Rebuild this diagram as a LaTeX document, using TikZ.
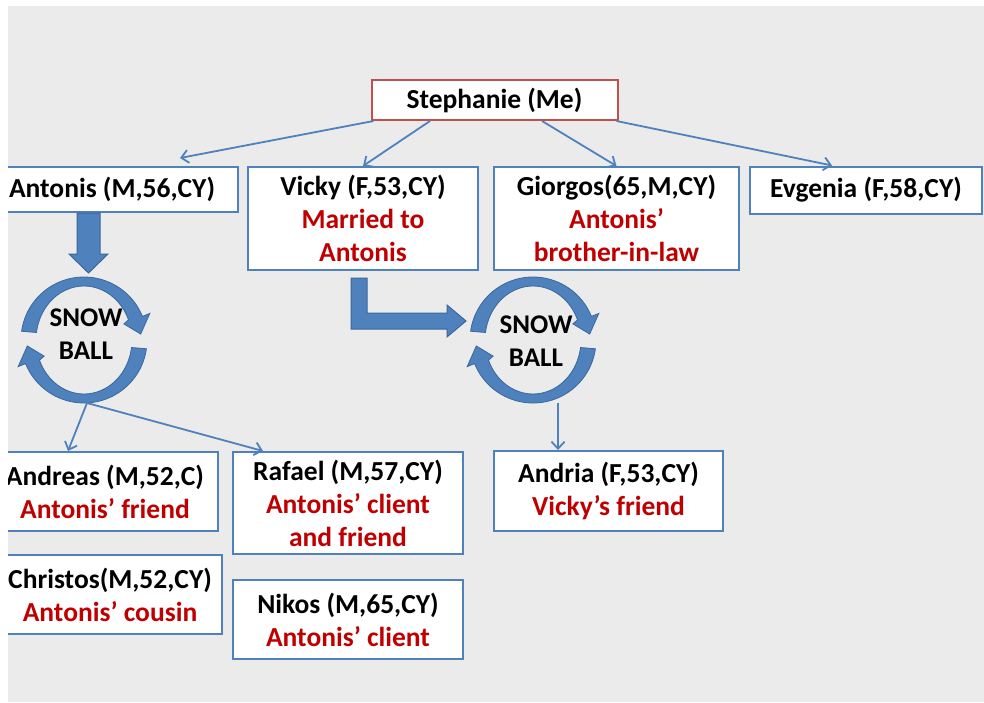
\documentclass[tikz,border=0pt]{standalone}
\usepackage{fontspec}
\setmainfont{Carlito}
\usetikzlibrary{arrows.meta, positioning}
\definecolor{boxblue}{HTML}{4F81BD}
\definecolor{arrowdark}{HTML}{3A679C}
\definecolor{mered}{HTML}{C0504D}
\definecolor{notered}{HTML}{C00000}
\definecolor{backgray}{HTML}{EBEBEB}
\newcommand{\relnote}[1]{\textcolor{notered}{#1}}
% two curved arrows round a centre
\newcommand{\snowring}[1]{%
  \foreach \turn in {0,180}{
    \filldraw[ringfill, shift={(#1)}, rotate=\turn] (188:63) arc[start angle=188, end angle=338, radius=63]
      -- (338:71) -- (354:57) -- (338:43) -- (338:48 and 54)
      arc[start angle=338, end angle=188, x radius=48, y radius=54] -- cycle;
  }}

\begin{document}
\begin{tikzpicture}[
    x=1pt, y=-1pt,
    person/.style={draw=boxblue, line width=2pt, fill=white, align=center, inner sep=0pt,
                   font=\fontsize{27.5pt}{33pt}\selectfont\bfseries},
    snowtext/.style={align=center, inner sep=0pt, font=\fontsize{27pt}{33pt}\selectfont\bfseries},
    link/.style={->, line width=1.8pt, draw=boxblue, >={Straight Barb[length=7pt,width=13pt]}},
    fat/.style={fill=boxblue, draw=arrowdark, line width=1pt},
    ringfill/.style={fill=boxblue, draw=arrowdark, line width=0.8pt}
  ]
  \useasboundingbox (0,0) rectangle (984,702);
  \fill[white] (0,0) rectangle (984,702);
  \begin{scope}
    \clip (8,6) rectangle (984,702);
    \fill[backgray] (8,6) rectangle (984,702);

    % people
    \node[person, draw=mered, minimum width=246pt, minimum height=40pt] (steph) at (494.5,100) {Stephanie (Me)};
    \node[person, minimum width=252pt, minimum height=45pt] (antonis) at (112,189.5) {Antonis (M,56,CY)};
    \node[person, minimum width=230pt, minimum height=103pt] (vicky) at (363,218.5)
      {Vicky (F,53,CY)\\\relnote{Married to}\\\relnote{Antonis}};
    \node[person, minimum width=245pt, minimum height=103pt] (giorgos) at (616.5,218.5)
      {Giorgos(65,M,CY)\\\relnote{Antonis'}\\\relnote{brother-in-law}};
    \node[person, minimum width=232pt, minimum height=47pt] (evgenia) at (866,190) {Evgenia (F,58,CY)};
    \node[person, minimum width=226pt, minimum height=79pt] (andreas) at (105,491.5)
      {Andreas (M,52,C)\\\relnote{Antonis' friend}};
    \node[person, minimum width=230pt, minimum height=102pt] (rafael) at (348,503)
      {Rafael (M,57,CY)\\\relnote{Antonis' client}\\\relnote{and friend}};
    \node[person, minimum width=224pt, minimum height=79pt] (christos) at (110,594.5)
      {Christos(M,52,CY)\\\relnote{Antonis' cousin}};
    \node[person, minimum width=230pt, minimum height=79pt, below=24pt of rafael] (nikos)
      {Nikos (M,65,CY)\\\relnote{Antonis' client}};
    \node[person, minimum width=229pt, minimum height=80pt] (andria) at (608.5,491)
      {Andria (F,53,CY)\\\relnote{Vicky's friend}};

    % snowballs
    \coordinate (ballAc) at (84,340);
    \coordinate (ballBc) at (533,340);
    \snowring{ballAc}
    \snowring{ballBc}
    \node[snowtext] (snowA) at (86,334) {SNOW\\BALL};
    \node[snowtext] (snowB) at (536,341) {SNOW\\BALL};
    \coordinate (ballA) at ([xshift=3pt,yshift=-63pt]ballAc);
    \coordinate (ballB) at ([xshift=25pt,yshift=-63pt]ballBc);

    % block arrows
    \path (antonis.south) ++(-23.5,0) coordinate (dropA);
    \filldraw[fat] (dropA) ++(-11.5,0) -- ++(23,0) -- ++(0,41) -- ++(8,0) -- ++(-19.5,19)
      -- ++(-19.5,-19) -- ++(8,0) -- cycle;
    \path (vicky.south) ++(-12,7) coordinate (bendA);
    \filldraw[fat] (bendA) -- ++(16,0) -- ++(0,35) -- ++(80,0) -- ++(0,-8) -- ++(19,16)
      -- ++(-19,16) -- ++(0,-8) -- ++(-96,0) -- cycle;

    % links
    \draw[link] ([xshift=3pt]steph.south west) -- ([xshift=68pt,yshift=8pt]antonis.north);
    \draw[link] ([xshift=-64.5pt]steph.south) -- (vicky.north);
    \draw[link] ([xshift=47.5pt]steph.south) -- (giorgos.north);
    \draw[link] ([xshift=-2pt]steph.south east) -- ([xshift=-34pt]evgenia.north);
    \draw[link] (ballA) -- ([xshift=-37pt]andreas.north);
    \draw[link] (ballA) -- ([xshift=-85pt]rafael.north);
    \draw[link] (ballB) -- (ballB |- andria.north);
  \end{scope}
\end{tikzpicture}
\end{document}
